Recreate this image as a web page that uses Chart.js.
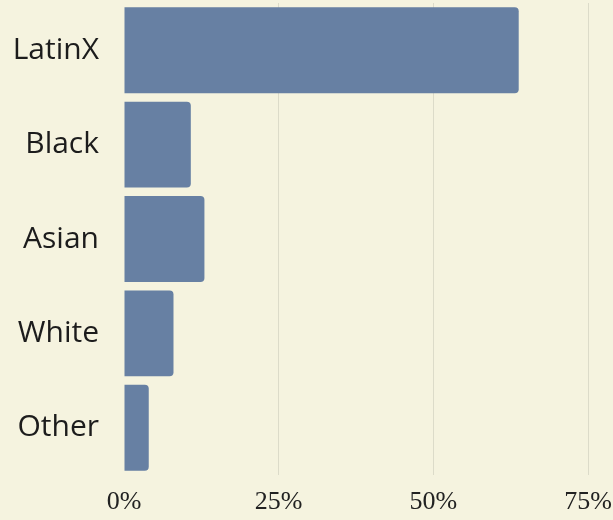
<!DOCTYPE html>
<html>
<head>
<meta charset="utf-8">
<script src="https://cdn.jsdelivr.net/npm/chart.js@4"></script>
<style>
  html, body { margin: 0; padding: 0; background: #f5f3df; }
  #wrap { width: 613px; height: 520px; position: relative; }
</style>
</head>
<body>
<div id="wrap"><canvas id="c"></canvas></div>
<script>
const categories = ["LatinX", "Black", "Asian", "White", "Other"];
const shares = [63.8, 10.8, 13.0, 8.0, 4.0];
const tickValues = [0, 25, 50, 75];

new Chart(document.getElementById('c'), {
  type: 'bar',
  data: {
    labels: categories,
    datasets: [{
      data: shares,
      backgroundColor: '#6780a3',
      borderRadius: { topRight: 4, bottomRight: 4 },
      borderSkipped: 'left',
      categoryPercentage: 1,
      barPercentage: 0.91
    }]
  },
  options: {
    indexAxis: 'y',
    responsive: true,
    maintainAspectRatio: false,
    animation: false,
    layout: { padding: { top: 3, right: 25, left: 0, bottom: 0 } },
    plugins: { legend: { display: false }, tooltip: { enabled: false } },
    scales: {
      x: {
        min: 0, max: 75,
        afterBuildTicks: (s) => { s.ticks = tickValues.map(v => ({ value: v })); },
        afterFit: (s) => { s.height = 45; s.paddingLeft = 0; s.paddingRight = 0; },
        grid: {
          color: (ctx) => ctx.tick && ctx.tick.value === 0 ? 'rgba(0,0,0,0)' : '#dcdbc9',
          lineWidth: 1,
          drawTicks: false
        },
        border: { display: false },
        ticks: {
          callback: (v) => v + '%',
          color: '#222',
          padding: 12,
          font: { family: 'Liberation Serif', size: 26 }
        }
      },
      y: {
        afterFit: (s) => { s.width = 124; s.paddingTop = 0; s.paddingBottom = 0; },
        grid: { display: false },
        border: { display: false },
        ticks: {
          color: '#1c1c1c',
          padding: 17,
          font: { family: 'Open Sans', size: 30 }
        }
      }
    }
  }
});
</script>
</body>
</html>
